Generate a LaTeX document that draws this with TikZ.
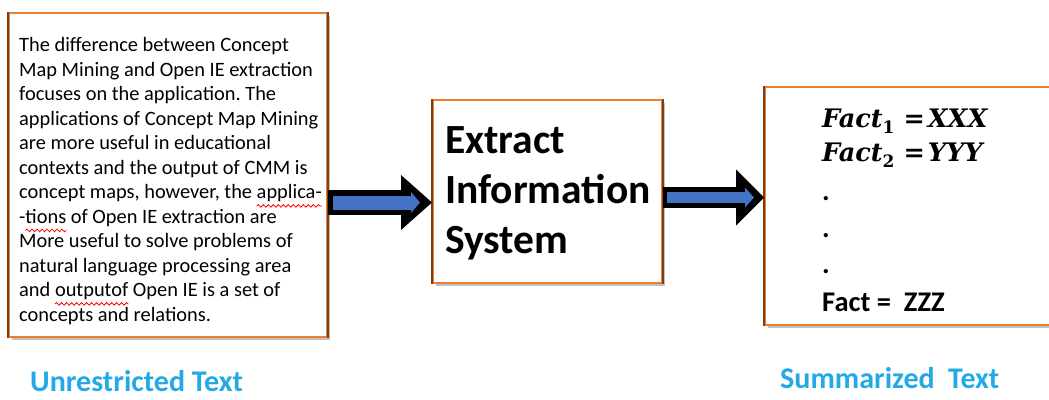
\documentclass[tikz,border=0pt]{standalone}
\usepackage{fontspec}
\setmainfont{Carlito}
\newfontfamily\mathserif{DejaVu Serif}
\usetikzlibrary{arrows.meta,shadows,decorations.pathmorphing,calc}
\definecolor{boxorange}{HTML}{ED7D31}
\definecolor{boxbrown}{HTML}{7B3F16}
\definecolor{arrowblue}{HTML}{4472C4}
\definecolor{labelblue}{RGB}{35,170,230}
\frenchspacing
\newsavebox\sqbox
\newcommand\squig[1]{\sbox\sqbox{#1}\tikz[overlay,baseline=0pt]\draw[red,line width=0.8pt,decorate,decoration={snake,amplitude=1.3pt,segment length=5pt}] (0pt,-7pt) -- (\wd\sqbox,-7pt);\usebox\sqbox}
\newcommand\factexpr[2]{{\mathserif\bfseries\itshape Fact}\raisebox{-6pt}{\mathserif\bfseries\fontsize{17}{17}\selectfont #1}\hspace{9pt}{\mathserif\bfseries =}\hspace{3pt}{\mathserif\bfseries\itshape #2}}
\begin{document}
\begin{tikzpicture}[x=1pt,y=-1pt,
  frame/.style={draw=boxorange, line width=2pt, fill=white, inner sep=0pt,
    drop shadow={shadow xshift=3pt, shadow yshift=-3pt, opacity=0.35, fill=black!70}},
  edgeline/.style={draw=boxbrown, line width=1.4pt},
  srctext/.style={inner sep=0pt, align=left, anchor=north west, font=\fontsize{20.4}{24.5}\selectfont},
  midtext/.style={inner sep=0pt, align=left, anchor=north west, font=\bfseries\fontsize{41.5}{50}\selectfont},
  fact/.style={inner sep=0pt, anchor=base west, font=\fontsize{25.5}{30}\selectfont},
  factb/.style={inner sep=0pt, anchor=base west, font=\bfseries\fontsize{28.5}{30}\selectfont},
  caption/.style={inner sep=0pt, anchor=base west, text=labelblue, font=\bfseries\fontsize{30}{34}\selectfont},
  outerarrow/.style={draw=black},
  innerarrow/.style={draw=arrowblue}
]
\useasboundingbox (0,0) rectangle (1049,399);
\begin{scope}
\clip (0,0) rectangle (1049,399);
\node[frame, minimum width=318pt, minimum height=324pt] (src) at (168,175) {};
\node[frame, minimum width=229pt, minimum height=183pt] (mid) at (547.5,191.5) {};
\node[frame, minimum width=305pt, minimum height=238pt] (dst) at (917.5,206) {};
\foreach \n in {src,mid,dst}{
  \draw[edgeline] (\n.north west) -- (\n.south west);
  \draw[edgeline] (\n.north east) -- (\n.south east);
}
\node[srctext] (para) at (19,35.7) {\rule{0pt}{16pt}The difference between Concept\\
Map Mining and Open IE extraction\\
focuses on the application. The\\
applications of Concept Map Mining\\
are more useful in educational\\
contexts and the output of CMM is\\
concept maps, however, the \squig{applica-}\\
-\squig{tions} of Open IE extraction are\\
More useful to solve problems of\\
natural language processing area\\
and \squig{outputof} Open IE is a set of\\
concepts and relations.};
\node[midtext] (midt) at (445,123) {\rule{0pt}{30pt}Extract\\Information\\System};
\node[fact] (f1) at (822,127) {\factexpr{1}{XXX}};
\node[fact] (f2) at (822,161) {\factexpr{2}{YYY}};
\node[factb] (d1) at (822,200) {.};
\node[factb] (d2) at (822,237) {.};
\node[factb] (d3) at (822,273) {.};
\node[factb] (f3) at (822,311) {Fact =\ \ ZZZ};
\coordinate (a1) at (0,202.5);
\coordinate (a2) at (0,197.5);
\draw[outerarrow, line width=25pt, -{Triangle[length=31pt,width=55pt,line width=0pt]}] (src.east |- a1) -- (mid.west |- a1);
\draw[innerarrow, line width=14pt, -{Triangle[length=9pt,width=21pt,line width=0pt]}] ($(src.east |- a1)+(5,0)$) -- ($(mid.west |- a1)+(-12,0)$);
\draw[outerarrow, line width=21pt, -{Triangle[length=28pt,width=56pt,line width=0pt]}] (mid.east |- a2) -- (dst.west |- a2);
\draw[innerarrow, line width=11pt, -{Triangle[length=9pt,width=20pt,line width=0pt]}] ($(mid.east |- a2)+(4,0)$) -- ($(dst.west |- a2)+(-10,0)$);
\node[caption] (l1) at (30,391) {Unrestricted Text};
\node[caption] (l2) at (780,388) {Summarized\ \ Text};
\end{scope}
\end{tikzpicture}
\end{document}
